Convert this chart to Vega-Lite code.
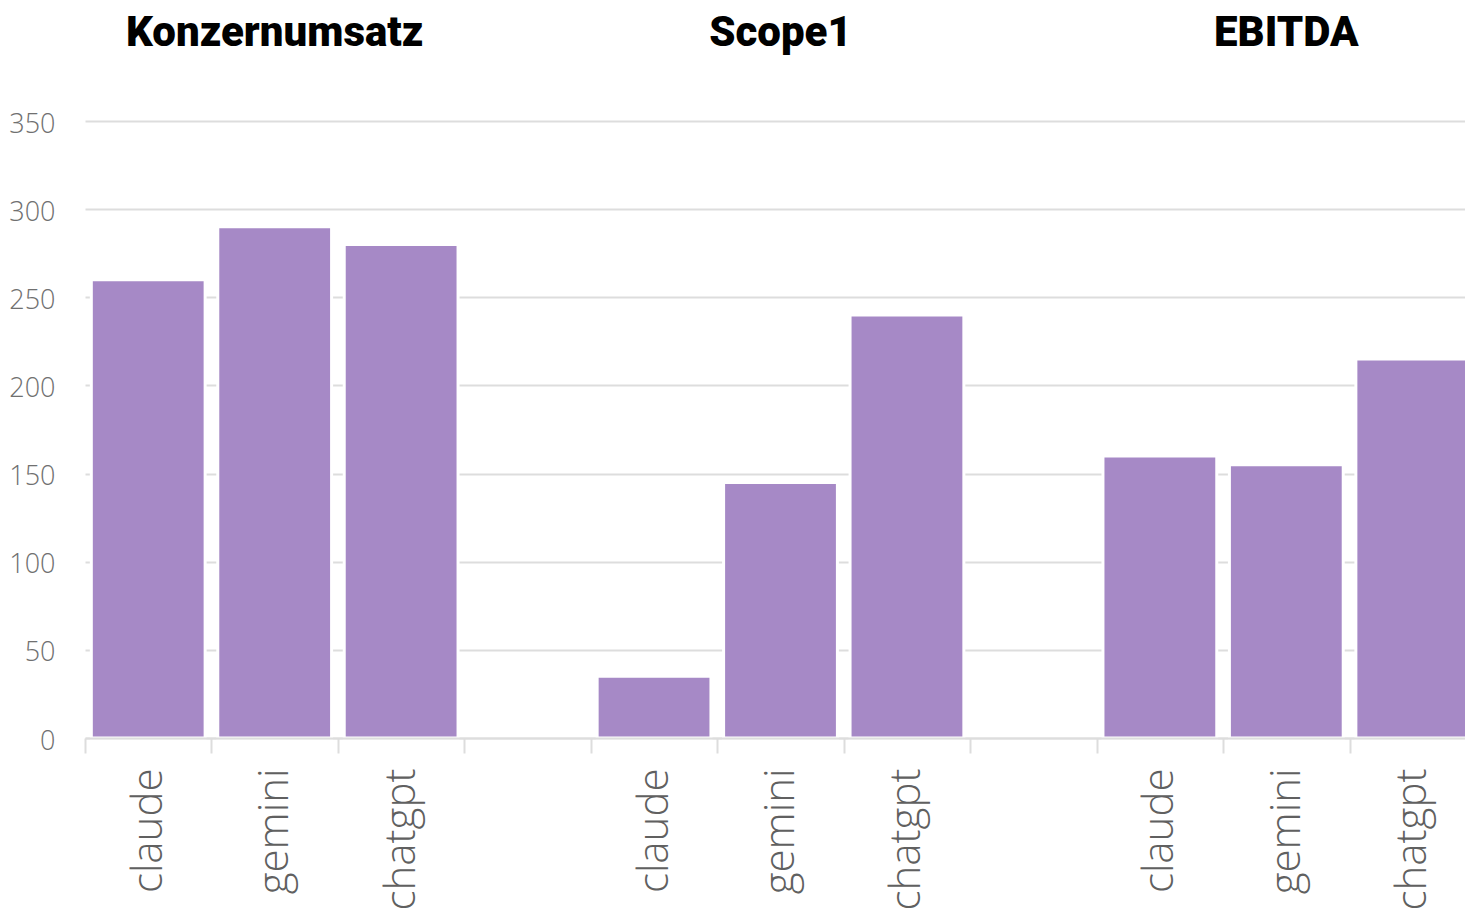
{
  "$schema": "https://vega.github.io/schema/vega-lite/v6.json",
  "background": "white",
  "padding": 5,
  "width": 1391,
  "height": 617,
  "data": {"values": [
    {"group": "Konzernumsatz", "model": "claude", "key": "Konzernumsatz|claude", "value": 260},
    {"group": "Konzernumsatz", "model": "gemini", "key": "Konzernumsatz|gemini", "value": 290},
    {"group": "Konzernumsatz", "model": "chatgpt", "key": "Konzernumsatz|chatgpt", "value": 280},
    {"group": "Scope1", "model": "claude", "key": "Scope1|claude", "value": 35},
    {"group": "Scope1", "model": "gemini", "key": "Scope1|gemini", "value": 145},
    {"group": "Scope1", "model": "chatgpt", "key": "Scope1|chatgpt", "value": 240},
    {"group": "EBITDA", "model": "claude", "key": "EBITDA|claude", "value": 160},
    {"group": "EBITDA", "model": "gemini", "key": "EBITDA|gemini", "value": 155},
    {"group": "EBITDA", "model": "chatgpt", "key": "EBITDA|chatgpt", "value": 215}
  ]},
  "config": {"view": {"stroke": null}},
  "layer": [
    {
      "mark": {"type": "bar", "color": "#a689c6", "stroke": "white", "strokeWidth": 3, "width": {"band": 0.9}},
      "encoding": {
        "x": {
          "field": "key", "type": "nominal", "sort": null,
          "scale": {
            "domain": ["Konzernumsatz|claude", "Konzernumsatz|gemini", "Konzernumsatz|chatgpt", "gap1", "Scope1|claude", "Scope1|gemini", "Scope1|chatgpt", "gap2", "EBITDA|claude", "EBITDA|gemini", "EBITDA|chatgpt"],
            "paddingInner": 0, "paddingOuter": 0
          },
          "axis": {
            "orient": "bottom", "title": null, "labelAngle": -90,
            "labelExpr": "isString(datum.value) && indexof(datum.value, '|') >= 0 ? split(datum.value, '|')[1] : ''",
            "tickBand": "extent", "ticks": true, "tickSize": 15, "tickColor": "#dddddd", "tickWidth": 2,
            "domainColor": "#dddddd", "domainWidth": 2,
            "labelFont": "Open Sans", "labelFontWeight": 300, "labelFontSize": 42, "labelColor": "#606060",
            "labelPadding": 15, "grid": false, "zindex": 1
          }
        },
        "y": {
          "field": "value", "type": "quantitative",
          "scale": {"domain": [0, 350], "nice": false},
          "axis": {
            "title": null, "values": [0, 50, 100, 150, 200, 250, 300, 350],
            "grid": true, "gridColor": "#dddddd", "gridWidth": 2,
            "domain": false, "ticks": false, "labelPadding": 30,
            "labelFont": "Open Sans", "labelFontWeight": 300, "labelFontSize": 27, "labelColor": "#707070",
            "labelOffset": 3,
            "minExtent": 80, "maxExtent": 80
          }
        }
      }
    },
    {
      "mark": {"type": "bar", "opacity": 0, "width": {"band": 0.9}},
      "encoding": {
        "x": {
          "field": "key", "type": "nominal", "sort": null,
          "axis": {
            "orient": "top", "title": null, "labelAngle": 0,
            "labelExpr": "isString(datum.value) && indexof(datum.value, 'gemini') >= 0 ? split(datum.value, '|')[0] : ''",
            "domain": false, "ticks": false, "grid": false,
            "labelFont": "Roboto", "labelFontWeight": 900, "labelFontSize": 42, "labelColor": "#000000",
            "labelBaseline": "alphabetic", "labelPadding": 76, "labelLimit": 0, "labelOverlap": false,
            "minExtent": 116, "maxExtent": 116
          }
        },
        "y": {"field": "value", "type": "quantitative"}
      }
    }
  ],
  "resolve": {"axis": {"x": "independent"}}
}
